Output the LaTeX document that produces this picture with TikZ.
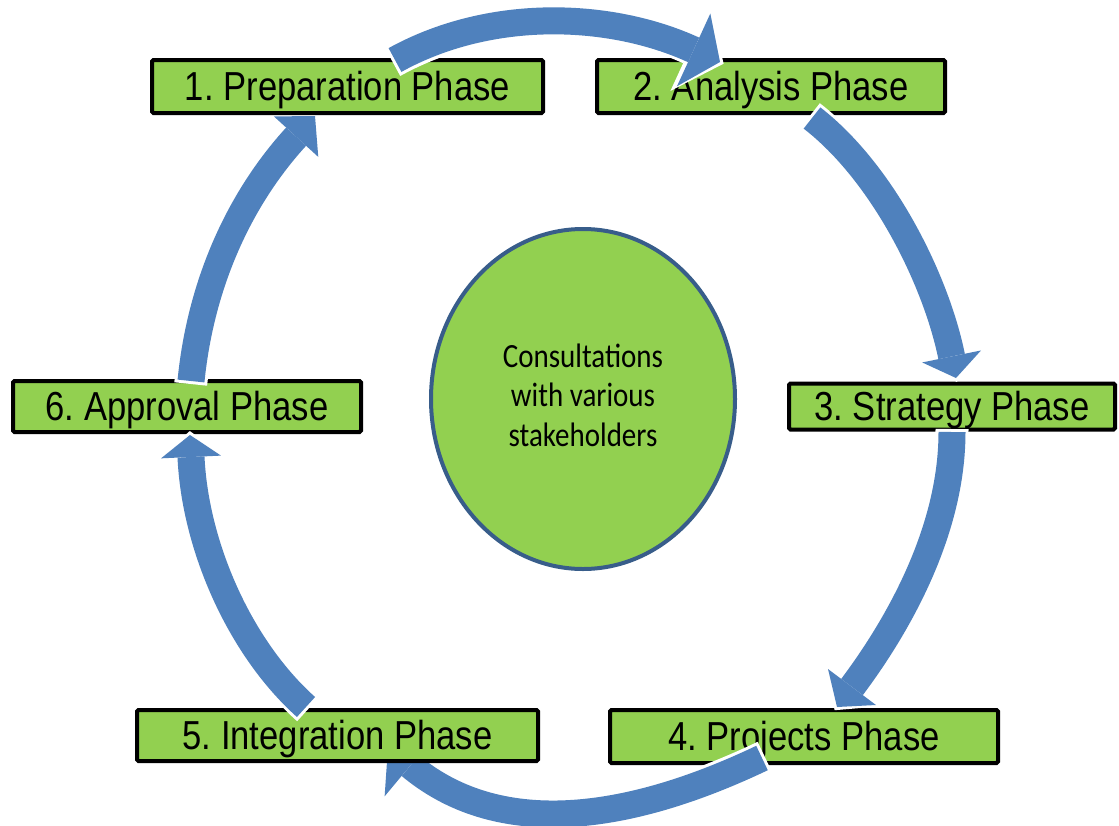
\documentclass[tikz,border=0pt]{standalone}
\usepackage{fontspec}
\usepackage{graphicx}
\usetikzlibrary{arrows.meta,shapes.geometric}
\newfontfamily\boxfont{Liberation Sans}
\newfontfamily\ellfont{Carlito}
\definecolor{boxgreen}{HTML}{92D050}
\definecolor{flowblue}{HTML}{4F81BD}
\definecolor{ringblue}{HTML}{385D8A}
\frenchspacing
\tikzset{
  phase/.style={draw=black, line width=4pt, fill=boxgreen, rounded corners=1.5pt,
    inner sep=0pt, text height=27pt, text depth=0pt,
    font=\boxfont\fontsize{34.6}{40}\selectfont},
  centre/.style={ellipse, draw=ringblue, line width=4pt, fill=boxgreen, inner sep=0pt,
    font=\ellfont\fontsize{29}{33.5}\selectfont},
  flow/.style n args={4}{draw=flowblue, line width=27pt,
    -{Triangle[width=#1pt, length=#2pt, line width=0pt]},
    preaction={draw=white, line width=33pt, shorten >=-4pt, shorten <=-3pt,
      -{Triangle[width=#3pt, length=#4pt, line width=0pt]}}},
}
\newcommand{\tallr}[1]{\scalebox{1}[1.17]{#1}}
\begin{document}
\begin{tikzpicture}[x=1pt,y=-1pt]
\useasboundingbox (0,0) rectangle (1119,825);
% boxes under arrows
\node[phase, minimum width=348pt, minimum height=53pt] (b2) at (771,86.5) {\tallr{2. Analysis Phase}};
\node[phase, minimum width=326pt, minimum height=46pt] (b3) at (952,406.5) {\tallr{3. Strategy Phase}};
\node[phase, minimum width=388pt, minimum height=53pt] (b4) at (804,736.5) {\tallr{4. Projects Phase}};
\node[phase, minimum width=348pt, minimum height=51pt] (b6) at (187,406.5) {\tallr{6. Approval Phase}};
\node[centre, minimum width=304pt, minimum height=340pt] (c) at (583,399)
  {\tallr{\begin{tabular}{@{}c@{}}Consultations\\with various\\stakeholders\end{tabular}}};
% arrow endpoints
\coordinate (a1s) at (395,60);  \coordinate (a1e) at (720,62);
\coordinate (a2s) at (812,118); \coordinate (a2e) at (956,378);
\coordinate (a3s) at (952,432); \coordinate (a3e) at (837,707);
\coordinate (a4s) at (762,758); \coordinate (a4e) at (388,747);
\coordinate (a5s) at (306,707); \coordinate (a5e) at (190,435);
\coordinate (a6s) at (191,381); \coordinate (a6e) at (315,116);
% arrows whose heads go under boxes
\draw[flow={80}{29}{94}{37}] (a4s) .. controls (636,818) and (503,843) .. (a4e);
\draw[flow={60}{28}{74}{36}] (a6s) .. controls (201,281) and (241,197) .. (a6e);
% remaining boxes
\node[phase, minimum width=391pt, minimum height=53pt] (b1) at (347.5,86.5) {\tallr{1. Preparation Phase}};
\node[phase, minimum width=401pt, minimum height=51pt] (b5) at (337.5,735.5) {\tallr{5. Integration Phase}};
% arrows on top
\draw[flow={80}{29}{94}{37}] (a1s) .. controls (491,7) and (611,12) .. (a1e);
\draw[flow={60}{22}{74}{30}] (a2s) .. controls (883,173) and (936,280) .. (a2e);
\draw[flow={60}{25}{74}{33}] (a3s) .. controls (952,532) and (897,627) .. (a3e);
\draw[flow={60}{22}{74}{30}] (a5s) .. controls (239,647) and (195,545) .. (a5e);
\end{tikzpicture}
\end{document}
